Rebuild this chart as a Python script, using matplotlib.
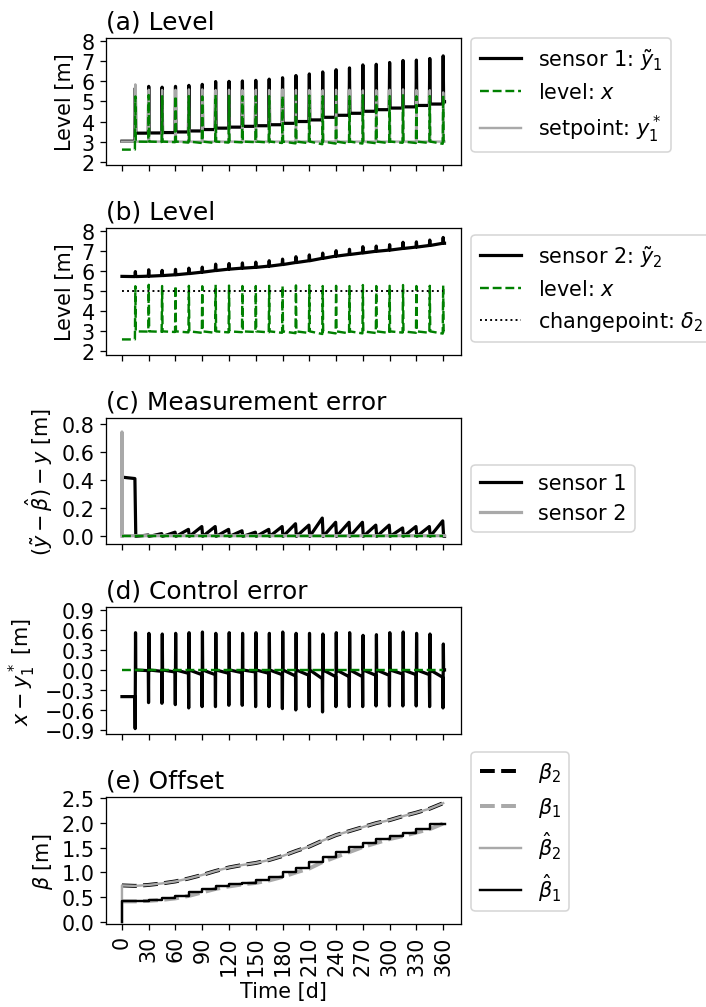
import numpy as np
import matplotlib.pyplot as plt

plt.rcParams['font.size'] = 13

GRAY = 'darkgray'
GREEN = 'green'

# recalibration events (days)
event_days = [15, 30, 45, 60, 75, 90, 105, 120, 135, 150, 165, 180,
              195, 210, 225, 240, 255, 270, 285, 300, 315, 330, 345, 360]
offset_days = [0] + event_days

# true sensor offsets [m] at day 0 and at each event
beta1 = [0.42, 0.42, 0.43, 0.45, 0.48, 0.53, 0.60, 0.67, 0.72, 0.76, 0.79, 0.84, 0.91,
         1.00, 1.08, 1.21, 1.31, 1.41, 1.51, 1.59, 1.67, 1.73, 1.80, 1.87, 1.98]
beta2 = [0.74, 0.73, 0.75, 0.78, 0.82, 0.88, 0.95, 1.03, 1.10, 1.15, 1.19, 1.25, 1.33,
         1.43, 1.52, 1.64, 1.75, 1.83, 1.91, 1.99, 2.05, 2.13, 2.20, 2.28, 2.39]

# level excursion peaks, setpoint peaks and control error extremes per event
level_peak = [5.25, 5.32, 5.26, 5.27, 5.27, 5.25, 5.32, 5.28, 5.26, 5.26, 5.27, 5.27,
              5.29, 5.29, 5.26, 5.27, 5.26, 5.31, 5.26, 5.27, 5.31, 5.26, 5.27, 5.29]
setpoint_peak = [5.85, 5.58, 5.57, 5.58, 5.6, 5.6, 5.57, 5.58, 5.57, 5.58, 5.57, 5.6,
                 5.57, 5.57, 5.56, 5.58, 5.58, 5.55, 5.56, 5.58, 5.6, 5.57, 5.56, 5.45]
ctrl_low = [-0.88, -0.49, -0.50, -0.52, -0.57, -0.55, -0.55, -0.53, -0.53, -0.55, -0.55, -0.58,
            -0.60, -0.55, -0.63, -0.55, -0.55, -0.55, -0.54, -0.54, -0.54, -0.54, -0.55, -0.57]
ctrl_high = [0.56, 0.55, 0.54, 0.55, 0.56, 0.57, 0.55, 0.56, 0.55, 0.56, 0.55, 0.57,
             0.55, 0.55, 0.54, 0.56, 0.56, 0.52, 0.53, 0.56, 0.57, 0.55, 0.54, 0.39]

level_start = 2.6
setpoint = 3.0
changepoint = 5.0
err2_start = 0.74
t_end = 361.5

# build the time series around each event
t_lvl, level, sens1, sens2 = [0], [level_start], [level_start + beta1[0]], [changepoint + beta2[0]]
t_sp, sp = [0], [setpoint]
t_err, err1 = [0], [beta1[0]]
t_ce, ctrl = [0], [level_start - setpoint]
for k, T in enumerate(event_days):
    drift = beta1[k + 1] - beta1[k] if k > 0 else 0.0
    pre_x = level_start if k == 0 else setpoint - drift
    pre_s1 = level_start + beta1[1] if k == 0 else setpoint + beta1[k]
    t_lvl += [T - 0.5, T, T + 0.5]
    level += [pre_x, level_peak[k], setpoint]
    sens1 += [pre_s1, level_peak[k] + beta1[k + 1], setpoint + beta1[k + 1]]
    sens2 += [changepoint + beta2[k + 1], level_peak[k] + beta2[k + 1], changepoint + beta2[k + 1]]
    t_sp += [T - 0.5, T, T + 0.5]
    sp += [setpoint, setpoint_peak[k], setpoint]
    t_err += [T - 0.5, T + 0.5]
    err1 += [beta1[0] - 0.01 if k == 0 else drift, 0.0]
    t_ce += [T - 0.5, T - 0.2, T + 0.2, T + 0.5]
    ctrl += [level_start - setpoint if k == 0 else -drift, ctrl_low[k], ctrl_high[k], 0.0]
t_lvl.append(t_end); level.append(setpoint); sens1.append(setpoint + beta1[-1])
sens2.append(changepoint + beta2[-1]); t_sp.append(t_end); sp.append(setpoint)
t_err.append(t_end); err1.append(0.0)
t_ce.append(t_end); ctrl.append(0.0)

fig, axes = plt.subplots(5, 1, sharex=True, figsize=(706 / 115, 1008 / 115))
fig.subplots_adjust(left=0.150, right=0.653, top=0.9613, bottom=0.0823, hspace=0.496)
ax_a, ax_b, ax_c, ax_d, ax_e = axes

# (a) sensor 1
ax_a.plot(t_lvl, sens1, color='black', lw=2.0, label=r'sensor 1: $\tilde{y}_1$', zorder=1)
ax_a.plot(t_lvl, level, color=GREEN, ls='--', label=r'level: $x$', zorder=3)
ax_a.plot(t_sp, sp, color=GRAY, label=r'setpoint: $y_1^*$', zorder=2)
ax_a.set_ylim(1.84, 8.16)
ax_a.set_yticks(range(2, 9))
ax_a.set_ylabel('Level [m]')
ax_a.set_title('(a) Level', loc='left')

# (b) sensor 2
ax_b.plot(t_lvl, sens2, color='black', lw=2.0, label=r'sensor 2: $\tilde{y}_2$')
ax_b.plot(t_lvl, level, color=GREEN, ls='--', label=r'level: $x$')
ax_b.plot([0, 360], [changepoint, changepoint], color='black', ls=':', lw=1.2,
          label=r'changepoint: $\delta_2$')
ax_b.set_ylim(1.84, 8.16)
ax_b.set_yticks(range(2, 9))
ax_b.set_ylabel('Level [m]')
ax_b.set_title('(b) Level', loc='left')

# (c) measurement error
ax_c.plot(t_err, err1, color='black', lw=2.0, label='sensor 1')
ax_c.plot([0, 0, 0.3, t_end], [0, err2_start, 0.005, 0.005], color=GRAY, lw=2.0, label='sensor 2')
ax_c.plot([0, 360], [0, 0], color=GREEN, ls='--')
ax_c.set_ylim(-0.057, 0.842)
ax_c.set_yticks([0.0, 0.2, 0.4, 0.6, 0.8])
ax_c.set_ylabel(r'$(\tilde{y}-\hat{\beta})-y$ [m]')
ax_c.set_title('(c) Measurement error', loc='left')

# (d) control error
ax_d.plot(t_ce, ctrl, color='black', lw=2.0)
ax_d.plot([0, 360], [0, 0], color=GREEN, ls='--')
ax_d.set_ylim(-0.965, 0.94)
ax_d.set_yticks([-0.9, -0.6, -0.3, 0.0, 0.3, 0.6, 0.9])
ax_d.set_ylabel(r'$x-y_1^*$ [m]')
ax_d.set_title('(d) Control error', loc='left')

# (e) offsets and their estimates
ax_e.plot(offset_days, beta2, color='black', ls='--', lw=2.5, label=r'$\beta_2$')
ax_e.plot(offset_days, beta1, color=GRAY, ls='--', lw=2.5, label=r'$\beta_1$')
ax_e.plot([0] + offset_days, [0] + beta2, color=GRAY, lw=1.5, label=r'$\hat{\beta}_2$')
ax_e.plot([0] + offset_days + [t_end], [0] + beta1[1:] + [beta1[-1], beta1[-1]],
          color='black', lw=1.5, drawstyle='steps-post', label=r'$\hat{\beta}_1$')
ax_e.set_ylim(-0.035, 2.51)
ax_e.set_yticks([0.0, 0.5, 1.0, 1.5, 2.0, 2.5])
ax_e.set_ylabel(r'$\beta$ [m]')
ax_e.set_title('(e) Offset', loc='left')

for ax in (ax_a, ax_b, ax_c, ax_e):
    ax.legend(loc='lower left', bbox_to_anchor=(1.0, 0.02))

ax_e.set_xlim(-18, 380)
ax_e.set_xticks(range(0, 361, 30))
ax_e.tick_params(axis='x', labelrotation=90)
ax_e.set_xlabel('Time [d]')

fig.savefig('out.png', dpi=115)
